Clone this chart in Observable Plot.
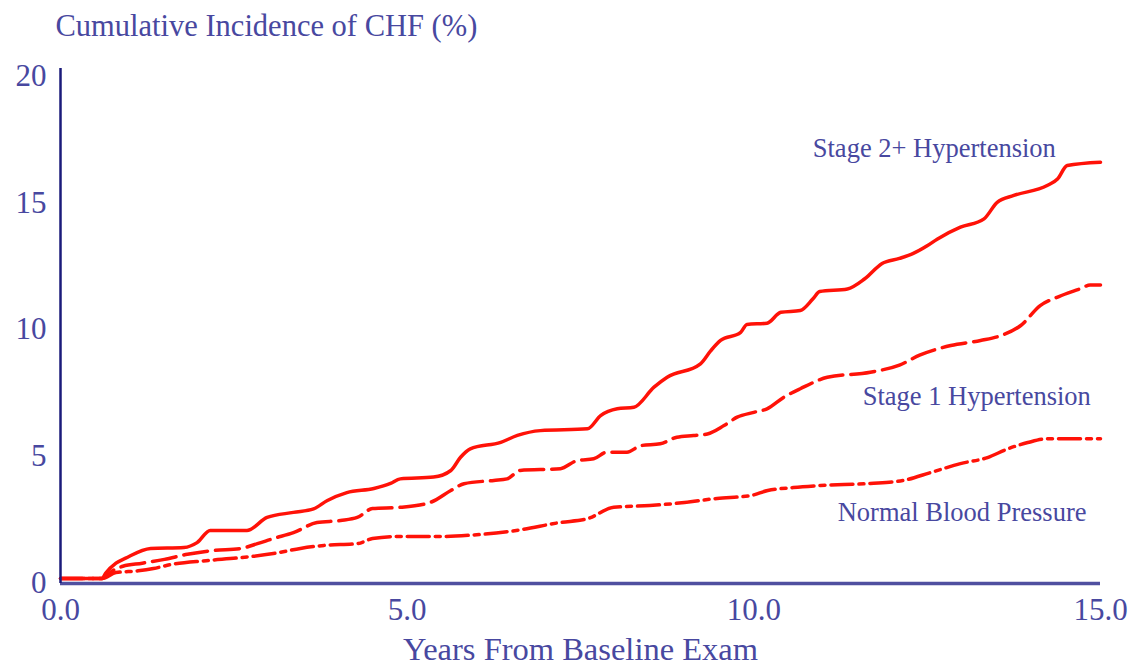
<!DOCTYPE html>
<html>
<head>
<meta charset="utf-8">
<script src="https://cdn.jsdelivr.net/npm/d3@7"></script>
<script src="https://cdn.jsdelivr.net/npm/@observablehq/plot@0.6"></script>
<style>
  html, body { margin: 0; padding: 0; background: #fff; }
</style>
</head>
<body>
<div id="chart"></div>
<script>
// ---- Data ----
const stage2Years = [0, 0.6, 0.65, 0.8, 0.94, 1.3, 1.78, 1.97, 2.16, 2.69, 2.98, 3.36, 3.65, 3.85, 4.13, 4.52, 4.76, 4.9, 5.38, 5.63, 5.77, 5.91, 6.35, 6.59, 6.92, 7.6, 7.79, 8.03, 8.27, 8.56, 8.75, 9.23, 9.38, 9.52, 9.81, 9.9, 10.19, 10.39, 10.67, 10.85, 10.95, 11.35, 11.6, 11.85, 12.1, 12.3, 12.5, 12.65, 12.98, 13.32, 13.51, 13.75, 14.23, 14.38, 14.52, 15.0];
const stage2Pct   = [0.2, 0.2, 0.4, 0.8, 1.0, 1.38, 1.42, 1.61, 2.09, 2.09, 2.6, 2.8, 2.94, 3.27, 3.58, 3.74, 3.94, 4.12, 4.19, 4.45, 4.97, 5.3, 5.56, 5.83, 6.02, 6.09, 6.61, 6.88, 6.94, 7.73, 8.12, 8.65, 9.17, 9.57, 9.89, 10.2, 10.25, 10.68, 10.75, 11.2, 11.5, 11.6, 12.0, 12.6, 12.8, 13.0, 13.3, 13.57, 14.03, 14.36, 15.01, 15.28, 15.67, 15.93, 16.46, 16.59];

const stage1Years = [0, 0.6, 0.75, 0.9, 1.18, 1.5, 1.83, 2.2, 2.6, 2.84, 3.07, 3.36, 3.7, 4.04, 4.28, 4.5, 4.9, 5.34, 5.63, 5.82, 6.25, 6.44, 6.63, 7.21, 7.45, 7.69, 7.88, 8.17, 8.37, 8.65, 8.89, 9.13, 9.33, 9.57, 9.76, 10.0, 10.19, 10.43, 10.67, 11.06, 11.68, 12.1, 12.4, 12.84, 13.27, 13.56, 13.85, 14.13, 14.4, 14.7, 14.85, 15.0];
const stage1Pct   = [0.2, 0.2, 0.5, 0.68, 0.8, 0.95, 1.15, 1.3, 1.38, 1.57, 1.77, 2.0, 2.4, 2.48, 2.6, 2.95, 3.0, 3.2, 3.66, 3.93, 4.06, 4.12, 4.45, 4.52, 4.84, 4.91, 5.17, 5.17, 5.43, 5.5, 5.76, 5.83, 5.89, 6.22, 6.55, 6.74, 6.88, 7.33, 7.67, 8.12, 8.32, 8.6, 9.0, 9.37, 9.57, 9.76, 10.16, 10.94, 11.3, 11.6, 11.75, 11.75];

const normalYears = [0, 0.6, 0.8, 1.12, 1.34, 1.6, 2.1, 2.6, 3.07, 3.46, 3.8, 4.28, 4.5, 4.86, 5.48, 5.9, 6.6, 7.2, 7.6, 7.98, 8.5, 9.0, 9.47, 9.95, 10.2, 10.57, 10.96, 11.68, 12.16, 12.55, 12.98, 13.37, 13.66, 13.95, 14.24, 15.0];
const normalPct   = [0.2, 0.2, 0.43, 0.5, 0.59, 0.75, 0.9, 1.02, 1.18, 1.38, 1.5, 1.57, 1.77, 1.85, 1.85, 1.9, 2.1, 2.4, 2.55, 3.0, 3.07, 3.19, 3.35, 3.46, 3.66, 3.78, 3.86, 3.94, 4.06, 4.37, 4.72, 4.96, 5.3, 5.55, 5.7, 5.7];

const seriesNames = ["Stage 2+ Hypertension", "Stage 1 Hypertension", "Normal Blood Pressure"];
const labelYears  = [10.85, 11.57, 11.21];
const labelPct    = [17.13, 7.36, 2.8];

const xTicks = [0, 5, 10, 15];
const yTicks = [0, 5, 10, 15, 20];

const titleText = "Cumulative Incidence of CHF (%)";
const xLabelText = "Years From Baseline Exam";

// ---- Build tables ----
const zip = (xs, ys) => xs.map((x, i) => ({year: x, pct: ys[i]}));
const stage2 = zip(stage2Years, stage2Pct);
const stage1 = zip(stage1Years, stage1Pct);
const normal = zip(normalYears, normalPct);
const labels = seriesNames.map((name, i) => ({name, year: labelYears[i], pct: labelPct[i]}));

const RED = "#ff1208";
const TEXT = "#4848a0";
const FONT = "'Liberation Serif', 'Times New Roman', serif";

const chart = Plot.plot({
  width: 1129,
  height: 666,
  marginLeft: 60,
  marginRight: 29,
  marginTop: 68,
  marginBottom: 83,
  style: {fontFamily: FONT, fontSize: "31px", color: TEXT, background: "#fff", overflow: "visible"},
  x: {domain: [0, 15], axis: null},
  y: {domain: [0, 20.28], axis: null},
  marks: [
    Plot.lineY(normal, {x: "year", y: "pct", stroke: RED, strokeWidth: 3.5, strokeDasharray: "22,6,5,6", curve: "monotone-x"}),
    Plot.lineY(stage1, {x: "year", y: "pct", stroke: RED, strokeWidth: 3.5, strokeDasharray: "24,8", curve: "monotone-x"}),
    Plot.lineY(stage2, {x: "year", y: "pct", stroke: RED, strokeWidth: 3.5, curve: "monotone-x"}),
    Plot.ruleY([0], {stroke: "#5050a0", strokeWidth: 3.5}),
    Plot.ruleX([0], {stroke: "#1a1a7a", strokeWidth: 2.5}),
    Plot.axisX({ticks: xTicks, tickSize: 0, tickPadding: 14, tickFormat: d3.format(".1f"), label: null, fill: TEXT, fontSize: 31}),
    Plot.axisY({ticks: yTicks, tickSize: 0, tickPadding: 14, tickFormat: d3.format("d"), label: null, fill: TEXT, fontSize: 31}),
    Plot.text(labels, {x: "year", y: "pct", text: "name", textAnchor: "start", lineAnchor: "middle", fill: TEXT, fontSize: 26.5}),
    Plot.text([titleText], {frameAnchor: "top-left", dx: -5, dy: -42, textAnchor: "start", lineAnchor: "middle", fill: TEXT, fontSize: 30.5}),
    Plot.text([xLabelText], {frameAnchor: "bottom", dy: 66, lineAnchor: "middle", fill: TEXT, fontSize: 32.5})
  ]
});

document.getElementById("chart").appendChild(chart);
</script>
</body>
</html>
